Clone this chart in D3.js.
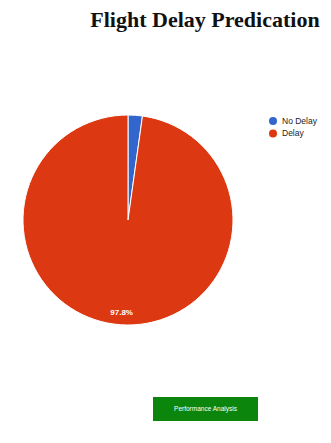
<!DOCTYPE html>
<html>
<head>
<meta charset="utf-8">
<script src="https://cdn.jsdelivr.net/npm/d3@7"></script>
<style>
  body { margin: 0; background: #fff; }
</style>
</head>
<body>
<div id="chart"></div>
<script>
const labels = ['No Delay', 'Delay'];
const values = [2.2, 97.8];
const colors = ['#3366cc', '#dc3912'];

const width = 331;
const height = 443;

const svg = d3
  .select('#chart')
  .append('svg')
  .attr('width', width)
  .attr('height', height);

svg
  .append('text')
  .attr('x', 205)
  .attr('y', 27)
  .attr('text-anchor', 'middle')
  .style('font', 'bold 22px "Liberation Serif", "Times New Roman", serif')
  .attr('fill', '#111')
  .text('Flight Delay Predication');

const color = d3.scaleOrdinal().domain(labels).range(colors);

const pie = d3.pie().sort(null).value(d => d.value);
const data = labels.map((l, i) => ({label: l, value: values[i]}));
const radius = 105;
const arc = d3.arc().innerRadius(0).outerRadius(radius);
const labelArc = d3.arc().innerRadius(radius * 0.88).outerRadius(radius * 0.88);
const total = d3.sum(values);

const g = svg.append('g').attr('transform', 'translate(128,220)');

g.selectAll('path')
  .data(pie(data))
  .enter()
  .append('path')
  .attr('d', arc)
  .attr('fill', d => color(d.data.label))
  .attr('stroke', '#fff')
  .attr('stroke-width', 1);

g.selectAll('.slice-label')
  .data(pie(data).filter(d => d.data.value / total > 0.05))
  .enter()
  .append('text')
  .attr('class', 'slice-label')
  .attr('transform', d => `translate(${labelArc.centroid(d)})`)
  .attr('dy', '0.35em')
  .attr('text-anchor', 'middle')
  .attr('fill', '#fff')
  .style('font', 'bold 8px "Liberation Sans", Arial, sans-serif')
  .text(d => `${d3.format('.1f')((d.data.value / total) * 100)}%`);

const legend = svg
  .append('g')
  .attr('transform', 'translate(273,121)')
  .selectAll('g')
  .data(labels)
  .enter()
  .append('g')
  .attr('transform', (d, i) => `translate(0,${i * 12.5})`);

legend
  .append('circle')
  .attr('r', 4)
  .attr('fill', d => color(d));

legend
  .append('text')
  .attr('x', 9)
  .attr('dy', '0.35em')
  .style('font', '8.5px "Liberation Sans", Arial, sans-serif')
  .attr('fill', '#222')
  .text(d => d);

const btn = svg.append('g').attr('transform', 'translate(153,397)');
btn
  .append('rect')
  .attr('width', 105)
  .attr('height', 24)
  .attr('fill', '#0b850b');
btn
  .append('text')
  .attr('x', 52.5)
  .attr('y', 12)
  .attr('dy', '0.35em')
  .attr('text-anchor', 'middle')
  .attr('fill', '#fff')
  .style('font', '6.5px "Liberation Sans", Arial, sans-serif')
  .text('Performance Analysis');
</script>
</body>
</html>
